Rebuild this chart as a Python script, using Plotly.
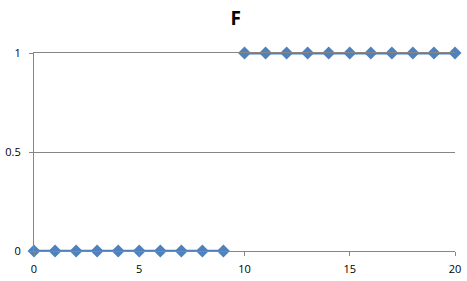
import plotly.graph_objects as go

x_low = [0, 1, 2, 3, 4, 5, 6, 7, 8, 9]
y_low = [0, 0, 0, 0, 0, 0, 0, 0, 0, 0]
x_high = [10, 11, 12, 13, 14, 15, 16, 17, 18, 19, 20]
y_high = [1, 1, 1, 1, 1, 1, 1, 1, 1, 1, 1]
x_ticks = [0, 5, 10, 15, 20]
y_ticks = [0, 0.5, 1]
y_tick_text = ["0", "0.5", "1"]

color = "#4F81BD"
fig = go.Figure()
for xs, ys in [(x_low, y_low), (x_high, y_high)]:
    fig.add_trace(go.Scatter(
        x=xs, y=ys, mode="lines+markers",
        line=dict(color=color, width=2.75),
        marker=dict(symbol="diamond", size=10, color=color),
        cliponaxis=False, showlegend=False,
    ))

fig.update_layout(
    width=467, height=281,
    margin=dict(l=34, r=12, t=53, b=30),
    paper_bgcolor="white", plot_bgcolor="white",
    font=dict(family="Open Sans, Liberation Sans, sans-serif", size=11, color="#000000"),
    title=dict(text="<b>F</b>", x=0.505, xanchor="center", y=0.935, yanchor="middle",
               font=dict(size=19, color="#000000")),
)
fig.update_xaxes(
    range=[0, 20], tickvals=x_ticks, showgrid=False, zeroline=False, automargin=False,
    showline=True, mirror=True, linecolor="#868686", linewidth=1,
    ticks="outside", ticklen=4, tickcolor="#868686", ticklabelstandoff=4,
)
fig.update_yaxes(
    range=[0, 1], tickvals=y_ticks, ticktext=y_tick_text, showgrid=True, automargin=False,
    gridcolor="#868686", gridwidth=1, zeroline=False,
    showline=True, linecolor="#868686", linewidth=1,
    ticks="outside", ticklen=4, tickcolor="#868686", ticklabelstandoff=6,
)
fig.write_html("out.html")
